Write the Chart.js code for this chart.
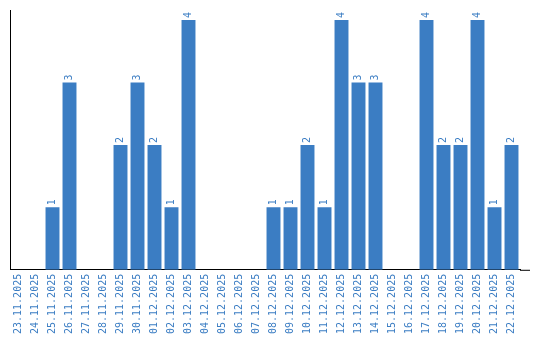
<!DOCTYPE html>
<html>
<head>
<meta charset="utf-8">
<script src="https://cdn.jsdelivr.net/npm/chart.js@4/dist/chart.umd.min.js"></script>
<style>
html,body{margin:0;padding:0;background:#fff;}
#c{display:block;}
</style>
</head>
<body>
<canvas id="c" width="540" height="340"></canvas>
<script>
const categories = ["23.11.2025","24.11.2025","25.11.2025","26.11.2025","27.11.2025","28.11.2025","29.11.2025","30.11.2025","01.12.2025","02.12.2025","03.12.2025","04.12.2025","05.12.2025","06.12.2025","07.12.2025","08.12.2025","09.12.2025","10.12.2025","11.12.2025","12.12.2025","13.12.2025","14.12.2025","15.12.2025","16.12.2025","17.12.2025","18.12.2025","19.12.2025","20.12.2025","21.12.2025","22.12.2025"];
const values = [0,0,1,3,0,0,2,3,2,1,4,0,0,0,0,1,1,2,1,4,3,3,0,0,4,2,2,4,1,2];

const BLUE = '#3b7dc3';
const FONT = '"DejaVu Sans Mono", monospace';

const valueLabels = {
  id: 'valueLabels',
  afterDatasetsDraw(chart) {
    const ctx = chart.ctx;
    const meta = chart.getDatasetMeta(0);
    ctx.save();
    ctx.fillStyle = BLUE;
    ctx.font = '10px ' + FONT;
    ctx.textAlign = 'left';
    ctx.textBaseline = 'middle';
    meta.data.forEach((bar, i) => {
      const v = values[i];
      if (!v) return;
      ctx.save();
      ctx.translate(bar.x, bar.y - 2);
      ctx.rotate(-Math.PI / 2);
      ctx.fillText(String(v), 0, 0);
      ctx.restore();
    });
    ctx.restore();
  }
};

const axisExtend = {
  id: 'axisExtend',
  afterDraw(chart) {
    const a = chart.chartArea;
    const ctx = chart.ctx;
    ctx.save();
    ctx.strokeStyle = '#000';
    ctx.lineWidth = 1;
    ctx.beginPath();
    ctx.moveTo(a.right, a.bottom + 0.5);
    ctx.lineTo(a.right + 10, a.bottom + 0.5);
    ctx.stroke();
    ctx.restore();
  }
};

new Chart(document.getElementById('c'), {
  type: 'bar',
  data: {
    labels: categories,
    datasets: [{
      data: values,
      backgroundColor: BLUE,
      borderWidth: 0,
      barPercentage: 0.82,
      categoryPercentage: 1
    }]
  },
  options: {
    responsive: false,
    animation: false,
    layout: { padding: { top: 10, left: 10, right: 20, bottom: 2 } },
    plugins: { legend: { display: false }, tooltip: { enabled: false } },
    scales: {
      x: {
        grid: { display: false, drawTicks: false },
        border: { display: true, color: '#000', width: 1 },
        ticks: {
          color: BLUE,
          font: { family: FONT, size: 10 },
          minRotation: 90,
          maxRotation: 90,
          autoSkip: false,
          padding: 4
        }
      },
      y: {
        min: 0,
        max: 4.16,
        grid: { display: false, drawTicks: false },
        border: { display: true, color: '#000', width: 1 },
        ticks: { display: false }
      }
    }
  },
  plugins: [valueLabels, axisExtend]
});
</script>
</body>
</html>
